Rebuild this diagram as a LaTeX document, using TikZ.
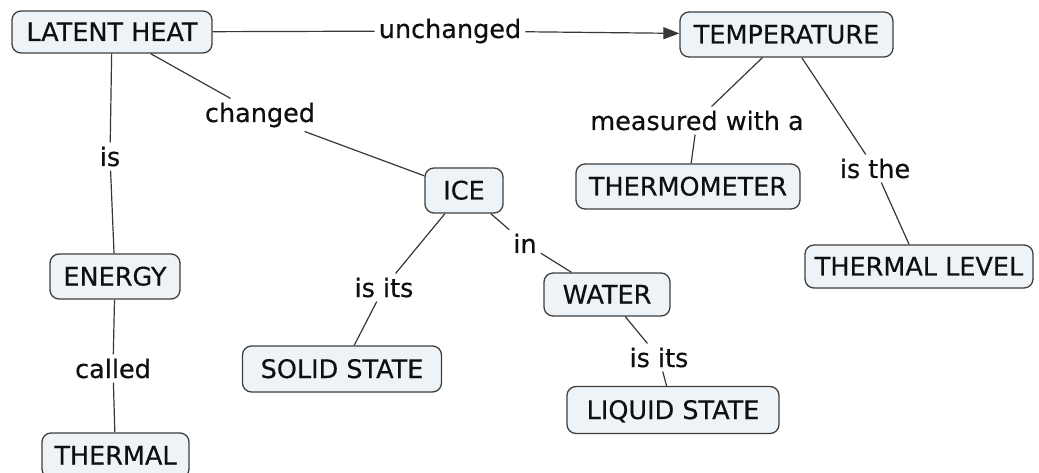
\documentclass[tikz,border=0pt]{standalone}
\usepackage{fontspec}
\setmainfont{DejaVu Sans}
\newfontfamily\mapfont{DejaVu Sans}[FakeBold=0.4]
\usetikzlibrary{arrows.meta}
\definecolor{boxfill}{RGB}{238,243,247}
\definecolor{boxline}{RGB}{62,62,62}
\definecolor{linkline}{RGB}{55,55,55}
\definecolor{ink}{RGB}{15,15,15}
\begin{document}
\begin{tikzpicture}[x=1pt,y=-1pt,
  concept/.style={draw=boxline, fill=boxfill, line width=1.3pt, rounded corners=9pt,
    text=ink, font=\mapfont\fontsize{25.5}{30}\selectfont, text height=18pt, text depth=0pt,
    inner xsep=6pt, inner ysep=0pt, minimum height=44pt},
  linklabel/.style={text=ink, font=\mapfont\fontsize{25.5}{30}\selectfont, inner sep=4pt, anchor=base},
  link/.style={draw=linkline, line width=1.2pt},
  arrowed/.style={-{Triangle[length=16pt,width=12pt]}}
]
\useasboundingbox (0,0) rectangle (1039,473);
\clip (0,0) rectangle (1039,473);

% concepts
\node[concept, minimum width=200pt, minimum height=42pt] (latent) at (112,32) {LATENT HEAT};
\node[concept, minimum width=213pt, minimum height=45pt] (temp) at (786.5,34.5) {TEMPERATURE};
\node[concept, minimum width=78pt, minimum height=45pt] (ice) at (464,190.5) {ICE};
\node[concept, minimum width=126pt, minimum height=43pt] (water) at (607,294.5) {WATER};
\node[concept, minimum width=224pt, minimum height=45pt] (thermo) at (688,186.5) {THERMOMETER};
\node[concept, minimum width=228pt, minimum height=43pt] (level) at (919,266.5) {THERMAL LEVEL};
\node[concept, minimum width=130pt, minimum height=45pt] (energy) at (115,276.5) {ENERGY};
\node[concept, minimum width=147pt, minimum height=45pt] (thermal) at (115.5,455.5) {THERMAL};
\node[concept, minimum width=199pt, minimum height=46pt] (solid) at (342,369) {SOLID STATE};
\node[concept, minimum width=212pt, minimum height=47pt] (liquid) at (673,410) {LIQUID STATE};

% linking phrases
\node[linklabel] (lu) at (450,38) {unchanged};
\node[linklabel] (lch) at (260,122) {changed};
\node[linklabel] (lis) at (110,166) {is};
\node[linklabel] (lmw) at (697,130) {measured with a};
\node[linklabel] (lthe) at (875,178) {is the};
\node[linklabel] (lits1) at (384,297) {is its};
\node[linklabel] (lin) at (525,253) {in};
\node[linklabel] (lits2) at (659,367) {is its};
\node[linklabel] (lcall) at (113,378) {called};

% connectors
\draw[link] (latent) -- (lu);
\draw[link, arrowed] (lu) -- (temp);
\draw[link] (latent) -- (lch);
\draw[link] (lch) -- (ice);
\draw[link] (latent) -- (lis);
\draw[link] (lis) -- (energy);
\draw[link] (energy) -- (lcall);
\draw[link] (lcall) -- (thermal);
\draw[link] (ice) -- (lits1);
\draw[link] (lits1) -- (solid);
\draw[link] (ice) -- (lin);
\draw[link] (lin) -- (water);
\draw[link] (water) -- (lits2);
\draw[link] (lits2) -- (liquid);
\draw[link] (temp) -- (lmw);
\draw[link] (lmw) -- (thermo);
\draw[link] (temp) -- (lthe);
\draw[link] (lthe) -- (level);
\end{tikzpicture}
\end{document}
